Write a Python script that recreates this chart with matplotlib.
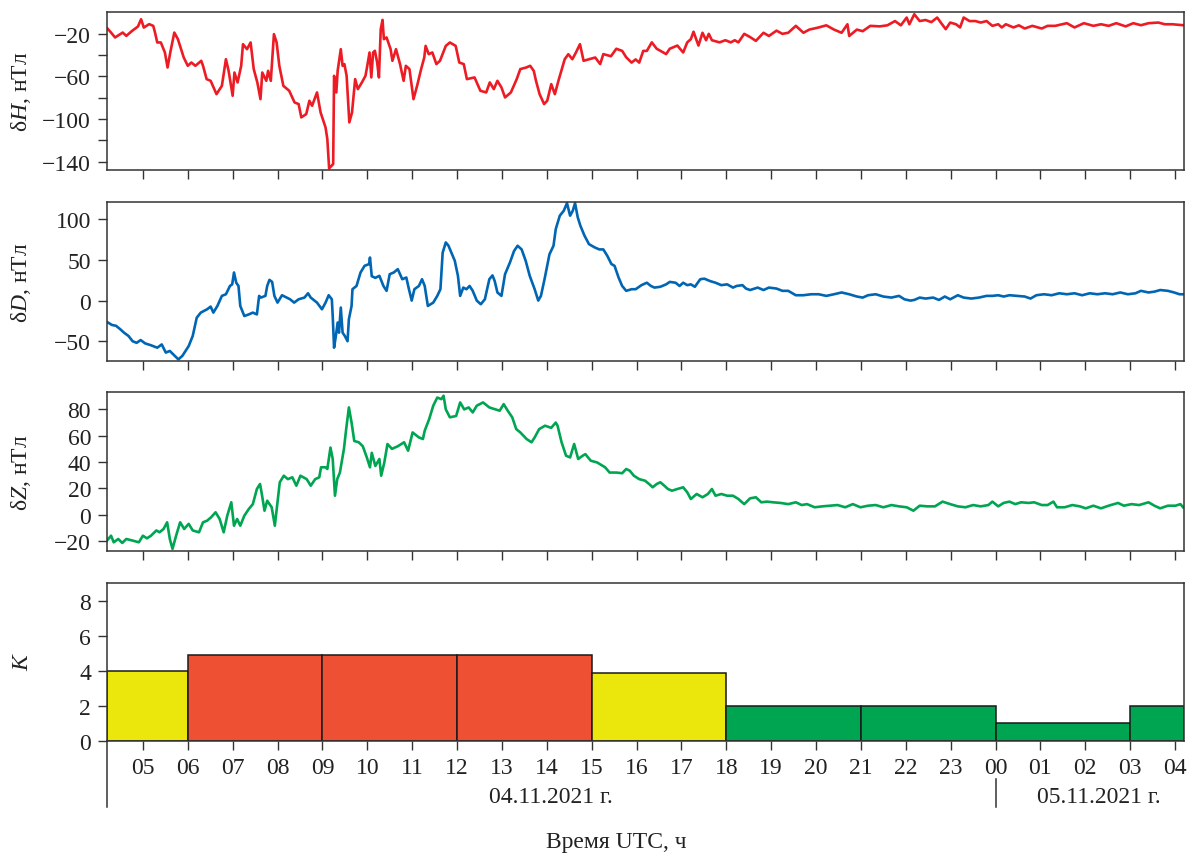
import matplotlib
matplotlib.use('Agg')
import matplotlib.pyplot as plt
from matplotlib.transforms import blended_transform_factory

plt.rcParams['font.family'] = ['Liberation Serif', 'DejaVu Serif']
plt.rcParams['mathtext.fontset'] = 'custom'
plt.rcParams['mathtext.rm'] = 'Liberation Serif'
plt.rcParams['mathtext.it'] = 'Liberation Serif:italic'

# ---------------- data (time in hours from 00 UTC 04.11.2021) ----------------
H_t = [4.21,4.29,4.38,4.55,4.63,4.76,4.89,4.96,5.02,5.14,
       5.23,5.27,5.32,5.40,5.49,5.55,5.61,5.70,5.78,5.91,
       6.00,6.08,6.17,6.30,6.34,6.42,6.51,6.64,6.76,6.85,
       6.91,7.00,7.04,7.11,7.19,7.23,7.32,7.40,7.47,7.55,
       7.62,7.66,7.75,7.79,7.85,7.92,7.98,8.04,8.13,8.26,
       8.38,8.47,8.53,8.64,8.71,8.77,8.88,8.96,9.07,9.11,
       9.15,9.24,9.26,9.31,9.34,9.41,9.45,9.49,9.54,9.60,
       9.66,9.73,9.79,9.88,9.96,10.00,10.05,10.09,10.13,10.17,
       10.22,10.26,10.30,10.34,10.37,10.43,10.52,10.56,10.64,10.73,
       10.81,10.86,10.94,11.03,11.11,11.20,11.27,11.30,11.37,11.45,
       11.54,11.62,11.75,11.84,11.97,12.05,12.15,12.22,12.39,12.52,
       12.65,12.73,12.82,12.90,12.99,13.07,13.20,13.33,13.41,13.54,
       13.63,13.71,13.76,13.84,13.94,14.01,14.10,14.18,14.27,14.40,
       14.48,14.57,14.65,14.74,14.78,14.82,14.95,15.08,15.19,
       15.26,15.43,15.55,15.68,15.77,15.89,15.98,16.06,16.15,16.23,
       16.34,16.45,16.66,16.74,16.91,17.04,17.13,17.21,17.27,17.38,
       17.47,17.55,17.61,17.68,17.85,17.98,18.10,18.19,18.27,18.40,
       18.53,18.66,18.83,18.95,19.12,19.25,19.38,19.55,19.72,19.85,
       20.06,20.23,20.40,20.57,20.70,20.74,20.91,21.04,21.21,21.42,
       21.59,21.76,21.89,22.02,22.08,22.19,22.31,22.44,22.57,22.70,
       22.78,22.89,22.99,23.12,23.21,23.29,23.42,23.55,23.67,23.80,
       23.93,24.06,24.14,24.23,24.40,24.52,24.65,24.82,25.03,25.16,
       25.33,25.59,25.76,25.97,26.18,26.35,26.52,26.69,26.90,27.07,
       27.24,27.41,27.63,27.77,27.94,28.18]
H_v = [-15,-18.8,-23.4,-18.8,-21.9,-17.2,-13.1,-6.3,-14.1,-10.9,
       -12.5,-18.8,-28.1,-28.1,-37.5,-51.6,-37.5,-18.8,-25,-42.2,
       -50,-46.9,-50,-45.3,-50,-62.5,-64.1,-76.6,-68.8,-43.8,
       -54.7,-78.1,-56.3,-65.6,-50,-29.7,-34.4,-28.1,-53.1,-65.6,
       -81.3,-56.3,-64.1,-54.7,-64.1,-20.3,-28.1,-50,-68.8,-73.4,
       -84.4,-85.9,-98.4,-95.3,-82.8,-87.5,-75,-93.8,-107.8,-118.8,
       -146.3,-142.2,-59.4,-75,-54.7,-34.4,-50,-48.4,-59.4,-103.1,
       -93.8,-62.5,-71.9,-65.6,-59.4,-50,-37.5,-60.9,-37.5,-35.9,
       -46.9,-60.9,-15.6,-6.9,-25,-23.4,-34.4,-45.3,-34.4,-48.4,
       -64.1,-50,-53.1,-81.3,-68.8,-53.1,-42.2,-31.3,-39.1,-37.5,
       -48.4,-45.3,-31.3,-28.1,-31.3,-46.9,-48.4,-62.5,-60.9,-73.4,
       -75,-65.6,-71.9,-64.1,-70.3,-79.7,-75,-62.5,-53.1,-51.6,
       -50,-54.7,-64.1,-76.6,-85.9,-82.8,-67.2,-76.6,-62.5,-43.8,
       -39.1,-43.8,-37.5,-29.7,-37.5,-45.3,-43.8,-42.2,-48.4,
       -39,-41,-34,-36,-42,-47,-44,-47,-36,-36,
       -28,-34,-39,-34,-31,-37.5,-28,-25,-18,-31,
       -19,-26,-20,-26,-28,-26,-28,-26,-28,-20,
       -23,-26.6,-19,-22,-17,-20,-19,-12.5,-19,-16,
       -14,-12,-16,-19,-11,-22,-16,-17.5,-12.5,-13,
       -12,-8,-12,-4.7,-11,-1.6,-8,-7,-9,-4.7,
       -9.4,-15.6,-9.4,-11,-14,-4.7,-8,-8,-9.4,-8,
       -12.5,-11,-14,-11,-14,-12,-15,-12.5,-15,-12.5,
       -12.5,-10,-14,-10,-12.5,-11,-12.5,-10,-13,-10,
       -11.9,-10,-9.4,-11,-11,-11.9]

D_t = [4.20,4.31,4.40,4.49,4.58,4.68,4.77,4.86,4.95,5.05,
       5.18,5.32,5.42,5.51,5.60,5.69,5.79,5.88,6.02,6.11,
       6.20,6.29,6.43,6.51,6.57,6.66,6.76,6.85,6.94,6.99,
       7.03,7.08,7.13,7.17,7.26,7.36,7.45,7.54,7.59,7.63,
       7.73,7.77,7.82,7.88,7.93,8.00,8.10,8.28,8.37,8.47,
       8.60,8.68,8.74,8.88,8.99,9.07,9.14,9.21,9.23,9.26,
       9.30,9.34,9.37,9.41,9.45,9.50,9.56,9.59,9.65,9.67,
       9.76,9.85,9.94,10.04,10.06,10.10,10.18,10.27,10.36,10.43,
       10.50,10.59,10.68,10.78,10.87,10.92,10.99,11.05,11.15,11.22,
       11.28,11.35,11.47,11.56,11.63,11.68,11.75,11.81,11.89,11.95,
       12.02,12.07,12.14,12.21,12.28,12.35,12.44,12.53,12.62,12.72,
       12.79,12.84,12.90,12.99,13.07,13.18,13.27,13.35,13.44,13.53,
       13.62,13.73,13.81,13.87,13.95,14.06,14.15,14.20,14.29,14.38,
       14.45,14.52,14.58,14.63,14.69,14.75,14.84,14.94,15.07,15.17,
       15.26,15.35,15.44,
       15.51,15.60,15.68,15.77,15.89,15.98,16.11,16.23,16.32,16.40,
       16.53,16.66,16.74,16.87,16.96,17.04,17.13,17.21,17.30,17.42,
       17.51,17.64,17.76,17.89,18.02,18.15,18.23,18.36,18.44,18.53,
       18.70,18.83,18.95,19.12,19.25,19.38,19.55,19.72,19.89,20.06,
       20.23,20.40,20.57,20.74,20.91,21.04,21.16,21.33,21.50,21.68,
       21.85,21.97,22.10,22.19,22.31,22.44,22.61,22.74,22.87,22.99,
       23.16,23.29,23.46,23.63,23.80,23.93,24.06,24.18,24.31,24.48,
       24.65,24.78,24.91,25.08,25.25,25.42,25.59,25.76,25.93,26.10,
       26.27,26.44,26.61,26.78,26.95,27.12,27.24,27.41,27.54,27.67,
       27.84,27.98,28.10,28.18]
D_v = [-26.3,-30,-31,-35,-39.5,-43.6,-50,-52,-48.6,-52.7,
       -55,-58,-54,-64,-62,-67,-72.4,-68,-56,-43.6,
       -21,-14.8,-10.7,-7.4,-14.8,-6.6,5.8,7.8,18,20,
       34.6,22,18,-6.6,-19,-17,-14.8,-17,5.8,3.7,
       5.8,18,25.5,23,5.8,-2.5,6.6,1.6,-2.5,1.6,
       3.7,9,3.7,-2.5,-10.7,-2.5,6.6,1.6,-19,-58,
       -43.6,-27,-39.5,-8.6,-39.5,-43.6,-50,-23,-6.6,14,
       18,34.6,42.8,44.9,53,30,28,30.5,18,12,
       32.5,34.6,38.7,26.3,28.4,16,0,14,18,26.3,
       18,-6.6,-2.5,5.8,14,59,71.6,67.5,57,49,
       30.5,5.8,16,14,18,12,0,-4.5,1.6,26.3,
       31,24,10,5.8,32.5,47,61,67.5,63,49,
       30.5,14,0,5.8,26.3,57,67.5,88,104.5,110.7,
       120,104.5,110.7,120,102.5,92,80,69.5,65.4,63,
       63,55,45,
       42.8,28.4,18,12,14,14,19,22,18,16,
       17,20,23,22,18,22,19,20,17,26.3,
       27,24,22,19,20,16,18,19,14.8,13,
       16,13,16,14.8,12,12,6.6,6.6,7.8,7.8,
       5.8,7.8,10,7.8,5,3.7,6.6,7.8,5,3.7,
       5.8,1.6,0,0.8,3.7,2.5,3.7,0.8,5,1.6,
       6.6,3.7,2.5,3.7,5.8,5.8,6.6,5,6.6,5.8,
       5,2.5,6.6,7.8,6.6,9,7.8,9,6.6,9,
       7.8,9,7.8,10,7.8,9,12,10,11,13,
       12,10,7.8,7.8]

Z_t = [4.20,4.29,4.35,4.45,4.54,4.63,4.77,4.91,5.00,5.09,
       5.18,5.30,5.37,5.46,5.54,5.60,5.66,5.74,5.83,5.92,
       6.02,6.11,6.25,6.34,6.43,6.52,6.62,6.71,6.80,6.88,
       6.97,7.03,7.10,7.17,7.26,7.36,7.45,7.54,7.61,7.65,
       7.71,7.77,7.87,7.94,7.99,8.05,8.14,8.23,8.33,8.42,
       8.51,8.65,8.74,8.84,8.93,8.97,9.07,9.11,9.18,9.23,
       9.28,9.33,9.39,9.48,9.53,9.59,9.65,9.71,9.81,9.90,
       9.99,10.06,10.10,10.18,10.27,10.31,10.38,10.45,10.55,10.68,
       10.82,10.91,11.01,11.15,11.24,11.28,11.38,11.47,11.56,11.65,
       11.70,11.75,11.84,11.98,12.07,12.16,12.26,12.35,12.44,12.58,
       12.72,12.86,12.95,13.04,13.13,13.23,13.32,13.41,13.55,13.66,
       13.73,13.83,13.96,14.10,14.20,14.24,14.33,14.43,14.52,14.61,
       14.70,14.80,14.86,14.98,15.12,15.30,15.40,
       15.55,15.68,15.77,15.85,15.94,16.06,16.19,16.28,16.36,16.45,
       16.53,16.62,16.70,16.79,16.91,17.04,17.13,17.21,17.34,17.47,
       17.59,17.68,17.76,17.89,18.02,18.15,18.27,18.40,18.53,18.66,
       18.78,18.91,19.04,19.21,19.38,19.55,19.68,19.80,19.97,20.14,
       20.31,20.48,20.65,20.82,20.99,21.16,21.33,21.50,21.68,21.85,
       22.02,22.17,22.31,22.48,22.65,22.82,22.99,23.16,23.33,23.50,
       23.67,23.84,23.93,24.06,24.18,24.31,24.44,24.57,24.74,24.86,
       25.03,25.16,25.29,25.37,25.54,25.71,25.88,26.01,26.18,26.35,
       26.52,26.73,26.86,27.03,27.20,27.41,27.54,27.67,27.84,28.01,
       28.12,28.18]
Z_v = [-19.7,-16,-21,-18.5,-21.5,-18.5,-19.7,-21,-16,-18,
       -16,-12,-13.4,-10.9,-5.8,-18.5,-26,-16,-5.8,-10.9,
       -7,-12,-13.4,-5.8,-4.6,-2,1.8,-3.3,-13.4,-0.8,
       9.4,-8.4,-3.3,-8.4,-0.8,4.3,8,19.5,23.3,15.7,
       3,10.6,5.6,-8.4,6.8,24.6,29.6,27,28.4,22,
       29.6,27,22,27,28.4,36,36,34.7,51,42.3,
       14.4,27,32,50,65,81.5,70,56,55,52,
       43.5,36,47,37,42.3,29.6,39.7,53.7,50,52,
       55,48.6,62.5,58.7,57.5,63.8,72.7,82.8,89,87.8,
       90.4,80,74,75,85.3,80,81.5,77.7,82.8,85.3,
       81.5,80,79,84,79,74,65,62.5,57.5,55,
       58.7,65,67.6,66,70,67.6,55,44.8,43.5,53.7,
       42.3,44.8,46,41,39.7,36,32,
       32,31.5,34.7,33.4,29.6,27,25.8,23.3,20.8,23.3,
       24.6,22,19.5,18.2,19.5,20.8,17,11.9,15.7,13.2,
       15.7,19.5,14.4,15.7,14.4,14.4,11.9,8,12.4,13.2,
       9.4,9.9,9.4,8.9,8,9.4,7.3,8,5.6,6.3,
       6.8,7.3,5.6,8,5.6,6.8,7.3,5.6,7.3,6.3,
       5.6,3,6.8,6.3,6.3,9.9,8,6.3,5.6,7.3,
       6.3,7.3,9.9,6.3,8.9,9.9,8,9.4,8.9,9.4,
       7.3,7.3,9.9,5.6,5.6,7.3,6.3,4.8,6.8,4.8,
       6.8,8.9,6.8,8,7.3,9.4,6.8,4.8,6.8,6.8,
       8,5.6]

# K index, 3-hour intervals
K_start = [4.2, 6, 9, 12, 15, 18, 21, 24, 27]
K_width = [1.8, 3, 3, 3, 3, 3, 3, 3, 1.2]
K_value = [4, 4.9, 4.9, 4.9, 3.9, 2, 2, 1, 2]
K_color = ['#EBE60C', '#EE5033', '#EE5033', '#EE5033', '#EBE60C',
           '#00A551', '#00A551', '#00A551', '#00A551']

hour_ticks = list(range(5, 29))
hour_labels = ['05','06','07','08','09','10','11','12','13','14','15','16',
               '17','18','19','20','21','22','23','00','01','02','03','04']
date_labels = ['04.11.2021 г.', '05.11.2021 г.']
date_pos = [14.1, 26.3]
day_break = 24.0
x_range = (4.2, 28.2)

# ---------------- figure ----------------
W_PX, H_PX = 1188, 854
fig = plt.figure(figsize=(W_PX / 100, H_PX / 100), dpi=100)
LEFT, RIGHT = 107, 1184
FS = 17
SPINE = '#333333'
TXT = '#222222'


def add_axes(top, bottom):
    return fig.add_axes([LEFT / W_PX, 1 - bottom / H_PX,
                         (RIGHT - LEFT) / W_PX, (bottom - top) / H_PX])


axH = add_axes(13, 170.7)
axD = add_axes(203.3, 361.7)
axZ = add_axes(393.3, 551.7)
axK = add_axes(584, 742)

for ax in (axH, axD, axZ, axK):
    ax.set_xlim(*x_range)
    ax.set_xticks(hour_ticks)
    for s in ax.spines.values():
        s.set_color(SPINE)
        s.set_linewidth(1.1)
    ax.tick_params(direction='out', length=6.5, width=1.0, color=SPINE,
                   labelsize=FS, pad=5, labelcolor=TXT)
    ax.yaxis.set_label_coords(-0.0685, 0.5)

for ax in (axH, axD, axZ):
    ax.set_xticklabels([])
axK.set_xticklabels(hour_labels)

LW = 1.9
axH.plot(H_t, H_v, color='#ED1C24', lw=LW)
axH.set_ylim(-147.5, 0.5)
axH.set_yticks([-140, -120, -100, -80, -60, -40, -20])
axH.set_yticklabels(['\u2212140', '', '\u2212100', '', '\u221260', '', '\u221220'])
axH.set_ylabel('δ$H$, нТл', fontsize=FS, color=TXT)

axD.plot(D_t, D_v, color='#0066B3', lw=LW)
axD.set_ylim(-74, 121)
axD.set_yticks([-50, 0, 50, 100])
axD.set_ylabel('δ$D$, нТл', fontsize=FS, color=TXT)

axZ.plot(Z_t, Z_v, color='#00A551', lw=LW)
axZ.set_ylim(-27.4, 93)
axZ.set_yticks([-20, 0, 20, 40, 60, 80])
axZ.set_ylabel('δ$Z$, нТл', fontsize=FS, color=TXT)

axK.bar(K_start, K_value, width=K_width, align='edge', color=K_color,
        edgecolor='#1a1a1a', linewidth=1.1, zorder=2)
axK.set_ylim(0, 9)
axK.set_yticks([0, 2, 4, 6, 8])
axK.set_ylabel('K', fontsize=FS, fontstyle='italic', color=TXT)

# date annotation below the K axis
tr = blended_transform_factory(axK.transData, axK.transAxes)
axK.plot([x_range[0], x_range[0]], [0, -0.418], transform=tr, color=SPINE,
         lw=1.1, clip_on=False)
axK.plot([day_break, day_break], [-0.24, -0.418], transform=tr, color=SPINE,
         lw=1.1, clip_on=False)
for lab, xp in zip(date_labels, date_pos):
    axK.text(xp, -0.354, lab, transform=tr, ha='center', va='center',
             fontsize=FS, color=TXT)

fig.text(616 / W_PX, 1 - 843 / H_PX, 'Время UTC, ч', ha='center', va='center',
         fontsize=FS, color=TXT)

fig.savefig('out.png', dpi=100)
